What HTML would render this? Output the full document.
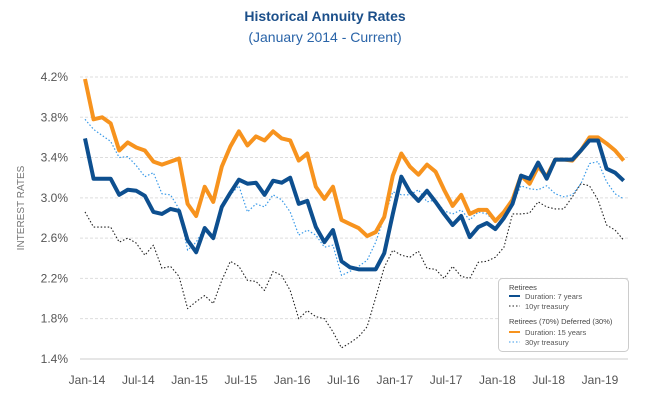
<!DOCTYPE html>
<html><head><meta charset="utf-8"><style>
body{margin:0;background:#fff;}
svg{display:block;font-family:"Liberation Sans",sans-serif;}
</style></head><body>
<svg id="chart" width="650" height="401">
<text x="325" y="21" text-anchor="middle" font-size="14" font-weight="bold" fill="#1b4f8a">Historical Annuity Rates</text>
<text x="325" y="42" text-anchor="middle" font-size="14" fill="#2a64a8">(January 2014 - Current)</text>
<text transform="translate(24,208) rotate(-90)" text-anchor="middle" font-size="10" fill="#777">INTEREST RATES</text>
<g id="grid"></g><g id="yticks"></g><g id="xticks"></g><g id="series"></g>
<g>
<rect x="498.5" y="278.5" width="130" height="73" rx="4" fill="#fff" stroke="#ccc"/>
<text x="509" y="290" font-size="7.5" fill="#444">Retirees</text>
<line x1="509" y1="296" x2="520" y2="296" stroke="#0d4f8f" stroke-width="2"/>
<text x="525" y="299" font-size="7.5" fill="#555">Duration: 7 years</text>
<line x1="509" y1="306" x2="520" y2="306" stroke="#222" stroke-width="1" stroke-dasharray="1.5,2"/>
<text x="525" y="309" font-size="7.5" fill="#555">10yr treasury</text>
<text x="509" y="324" font-size="7.5" fill="#444">Retirees (70%) Deferred (30%)</text>
<line x1="509" y1="332" x2="520" y2="332" stroke="#f7931e" stroke-width="2"/>
<text x="525" y="335" font-size="7.5" fill="#555">Duration: 15 years</text>
<line x1="509" y1="342" x2="520" y2="342" stroke="#3a9ae8" stroke-width="1" stroke-dasharray="1.5,2"/>
<text x="525" y="345" font-size="7.5" fill="#555">30yr treasury</text>
</g>
</svg>
<script>
const yTicks=[1.4,1.8,2.2,2.6,3.0,3.4,3.8,4.2];
const xLabels=["Jan-14","Jul-14","Jan-15","Jul-15","Jan-16","Jul-16","Jan-17","Jul-17","Jan-18","Jul-18","Jan-19"];
const orange=[4.18,3.78,3.80,3.74,3.47,3.55,3.50,3.47,3.36,3.33,3.36,3.39,2.94,2.82,3.11,2.96,3.31,3.51,3.66,3.52,3.61,3.57,3.66,3.59,3.57,3.37,3.44,3.11,2.99,3.11,2.78,2.74,2.70,2.62,2.66,2.81,3.22,3.44,3.31,3.23,3.33,3.26,3.08,2.92,3.03,2.84,2.88,2.88,2.77,2.86,2.98,3.22,3.14,3.31,3.21,3.38,3.38,3.37,3.47,3.60,3.60,3.54,3.47,3.37];
const navy=[3.59,3.19,3.19,3.19,3.03,3.08,3.07,3.02,2.86,2.84,2.89,2.87,2.58,2.46,2.70,2.60,2.91,3.05,3.18,3.14,3.15,3.03,3.17,3.15,3.20,2.94,2.97,2.71,2.56,2.68,2.37,2.31,2.29,2.29,2.29,2.45,2.84,3.21,3.06,2.97,3.07,2.96,2.84,2.73,2.82,2.61,2.71,2.75,2.69,2.80,2.94,3.22,3.19,3.35,3.19,3.38,3.38,3.38,3.47,3.57,3.57,3.29,3.25,3.17];
const t30=[3.78,3.68,3.62,3.56,3.40,3.41,3.32,3.21,3.25,3.04,3.03,2.89,2.48,2.56,2.70,2.61,2.91,3.03,3.12,2.86,2.94,2.91,3.03,2.98,2.86,2.63,2.68,2.63,2.51,2.53,2.23,2.27,2.32,2.38,2.56,2.81,3.06,3.03,3.03,3.08,2.96,2.98,2.87,2.84,2.88,2.78,2.86,2.84,2.76,2.86,2.94,3.12,3.09,3.08,3.12,3.04,3.01,3.03,3.14,3.34,3.36,3.16,3.04,2.99];
const t10=[2.86,2.71,2.71,2.71,2.56,2.60,2.55,2.43,2.53,2.30,2.32,2.22,1.90,1.97,2.03,1.95,2.18,2.37,2.32,2.18,2.17,2.08,2.27,2.23,2.08,1.80,1.88,1.82,1.80,1.67,1.51,1.56,1.62,1.72,2.01,2.31,2.48,2.43,2.41,2.47,2.30,2.29,2.20,2.32,2.22,2.20,2.36,2.37,2.41,2.51,2.84,2.84,2.85,2.96,2.91,2.89,2.89,3.01,3.14,3.12,2.98,2.73,2.68,2.58];
const NS="http://www.w3.org/2000/svg";
const x=i=>85+i*8.55;
const y=v=>77+(4.2-v)*100.7;
function mk(tag,attrs,parent){const e=document.createElementNS(NS,tag);for(const k in attrs)e.setAttribute(k,attrs[k]);parent.appendChild(e);return e;}
const grid=document.getElementById('grid'),yt=document.getElementById('yticks'),xt=document.getElementById('xticks'),ser=document.getElementById('series');
yTicks.forEach((v,i)=>{
  const l=mk('line',{x1:80,x2:628,y1:y(v),y2:y(v),stroke:i==0?'#ccc':'#ddd','stroke-width':1,'stroke-dasharray':i==0?'':'3,2'},grid);
  
  
  const t=mk('text',{x:68,y:y(v)+4,'text-anchor':'end','font-size':12,fill:'#555'},yt);
  t.textContent=v.toFixed(1)+'%';
  
  
});
xLabels.forEach((s,i)=>{
  const t=mk('text',{x:x(i*6)+2,y:384,'text-anchor':'middle','font-size':12,fill:'#555'},xt);
  t.textContent=s;
  
  
});
function line(data,color,w,dash,name){
  const p=mk('polyline',{points:data.map((v,i)=>x(i)+','+y(v)).join(' '),fill:'none',stroke:color,'stroke-width':w,'stroke-linejoin':'round','stroke-dasharray':dash},ser);
  
  
}
line(t10,'#222',1.1,'1.5,2','series-10yr-treasury');
line(t30,'#3a9ae8',1.2,'1.5,2','series-30yr-treasury');
line(orange,'#f7931e',4,'','series-duration-15');
line(navy,'#0d4f8f',4,'','series-duration-7');
</script>
</body></html>
